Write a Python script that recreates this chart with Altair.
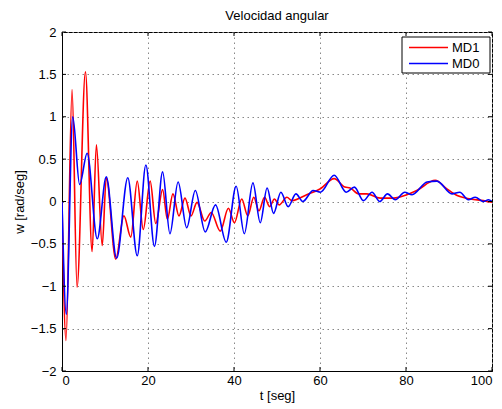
import altair as alt
import pandas as pd

# ---- data ----
t_md1 = [0, 0.93, 2.34, 3.5, 5.45, 7.0, 8.0, 9.35, 10.3, 12.5, 14.4, 16.0, 17.5, 18.9,
         20.5, 21.8, 23.4, 24.5, 25.8, 27.2, 28.6, 30.0, 31.4, 33.2, 34.7, 36.8, 38.7,
         40.1, 41.8, 43.2, 44.6, 45.8, 47.1, 48.3, 49.4, 50.5, 52.3, 53.5, 56.9, 60.1,
         63.3, 65.8, 67.0, 69.0, 70.9, 74.0, 77.1, 80.2, 82.5, 86.8, 89.5, 91.9, 95.0,
         98.0, 100]
w_md1 = [0, -1.64, 1.32, -1.01, 1.53, -0.59, 0.67, -0.52, 0.28, -0.68, -0.17, -0.42, 0.24, -0.33,
         0.24, -0.26, 0.14, -0.21, 0.09, -0.17, 0.04, -0.17, -0.01, -0.23, -0.13, -0.35, -0.08,
         -0.25, 0.03, -0.17, 0.05, -0.11, 0.05, -0.06, 0.03, -0.04, 0.05, 0.01, 0.08, 0.15,
         0.27, 0.17, 0.16, 0.09, 0.09, 0.04, 0.04, 0.08, 0.13, 0.25, 0.15, 0.07, 0.03,
         0.01, -0.01]

t_md0 = [0, 1.0, 2.5, 4.1, 5.85, 8.2, 10.3, 12.7, 15.3, 17.5, 19.5, 21.5, 23.4, 25.1,
         27.0, 29.0, 31.0, 33.3, 35.7, 38.2, 40.5, 42.4, 44.4, 46.1, 47.7, 49.2, 50.9,
         52.6, 54.4, 56.0, 58.4, 60.1, 63.3, 66.1, 68.0, 70.1, 72.1, 73.9, 75.7, 77.5,
         79.7, 81.4, 84.9, 87.2, 90.7, 92.5, 94.5, 96.1, 98.0, 99.2, 100]
w_md0 = [0, -1.33, 1.0, 0.2, 0.57, -0.44, 0.29, -0.67, 0.28, -0.64, 0.43, -0.53, 0.35, -0.38,
         0.23, -0.31, 0.13, -0.36, -0.04, -0.48, 0.18, -0.38, 0.22, -0.25, 0.16, -0.14, 0.11,
         -0.06, 0.09, 0.0, 0.13, 0.11, 0.31, 0.11, 0.17, 0.01, 0.11, 0.0, 0.09, 0.02,
         0.11, 0.08, 0.23, 0.24, 0.09, 0.11, 0.02, 0.05, 0.0, 0.02, 0.0]

series_names = ["MD1", "MD0"]
series_colors = ["#ff0000", "#0000ff"]
x_ticks = [0, 20, 40, 60, 80, 100]
y_ticks = [-2, -1.5, -1, -0.5, 0, 0.5, 1, 1.5, 2]
title_text = "Velocidad angular"

W, H = 430, 339
FONT = "Liberation Sans"

series_t = {"MD1": t_md1, "MD0": t_md0}
series_w = {"MD1": w_md1, "MD0": w_md0}

x_scale = alt.Scale(domain=[0, 100], nice=False, zero=False)
y_scale = alt.Scale(domain=[-2, 2], nice=False, zero=False)
x_axis = alt.Axis(values=x_ticks, title="t [seg]", labelPadding=3, titlePadding=2)
y_axis = alt.Axis(values=y_ticks, format="~g", title="w [rad/seg]", labelPadding=6, titlePadding=4)

layers = []
for s, c in zip(series_names, series_colors):
    d = pd.DataFrame({"t": series_t[s], "w": series_w[s]})
    layers.append(
        alt.Chart(d).mark_line(interpolate="monotone", strokeWidth=1.6, color=c, clip=True).encode(
            x=alt.X("t:Q", scale=x_scale, axis=x_axis),
            y=alt.Y("w:Q", scale=y_scale, axis=y_axis),
        )
    )

# inward ticks (MATLAB style) on all four sides
xt = pd.DataFrame({"t": x_ticks})
yt = pd.DataFrame({"w": y_ticks})
for y0, y1 in [(H, H - 4), (0, 4)]:
    layers.append(alt.Chart(xt).mark_rule(color="black", strokeWidth=1).encode(
        x=alt.X("t:Q", scale=x_scale, axis=x_axis), y=alt.value(y0), y2=alt.value(y1)))
for x0, x1 in [(0, 4), (W, W - 4)]:
    layers.append(alt.Chart(yt).mark_rule(color="black", strokeWidth=1).encode(
        y=alt.Y("w:Q", scale=y_scale, axis=y_axis), x=alt.value(x0), x2=alt.value(x1)))

one = pd.DataFrame({"a": [0]})

# legend box
layers.append(alt.Chart(one).mark_rect(fill="white", stroke="black", strokeWidth=1).encode(
    x=alt.value(340), x2=alt.value(428), y=alt.value(5), y2=alt.value(41)))
for i, (s, c) in enumerate(zip(series_names, series_colors)):
    yy = 15.5 + 16 * i
    layers.append(alt.Chart(one).mark_rule(color=c, strokeWidth=1.6).encode(
        x=alt.value(347), x2=alt.value(386), y=alt.value(yy)))
    layers.append(alt.Chart(one).mark_text(align="left", baseline="middle", fontSize=13,
                                            font=FONT, color="black").encode(
        x=alt.value(390), y=alt.value(yy), text=alt.value(s)))

# title
layers.append(alt.Chart(one).mark_text(align="center", baseline="alphabetic", fontSize=13,
                                        font=FONT, color="black").encode(
    x=alt.value(W / 2), y=alt.value(-12.5), text=alt.value(title_text)))

chart = alt.layer(*layers).properties(
    width=W, height=H,
    autosize=alt.AutoSizeParams(type="none"),
    padding={"left": 62, "top": 32, "right": 10, "bottom": 38},
    background="white",
).configure_view(
    stroke="black", strokeWidth=1
).configure_axis(
    labelFont=FONT, labelFontSize=13, labelColor="black",
    titleFont=FONT, titleFontSize=13, titleFontWeight="normal", titleColor="black",
    domainColor="black", domainWidth=1, ticks=False,
    grid=True, gridColor="#888888", gridDash=[1.5, 3.5], gridWidth=1,
)

chart.save("out.html", embed_options={"renderer": "svg", "actions": False})
